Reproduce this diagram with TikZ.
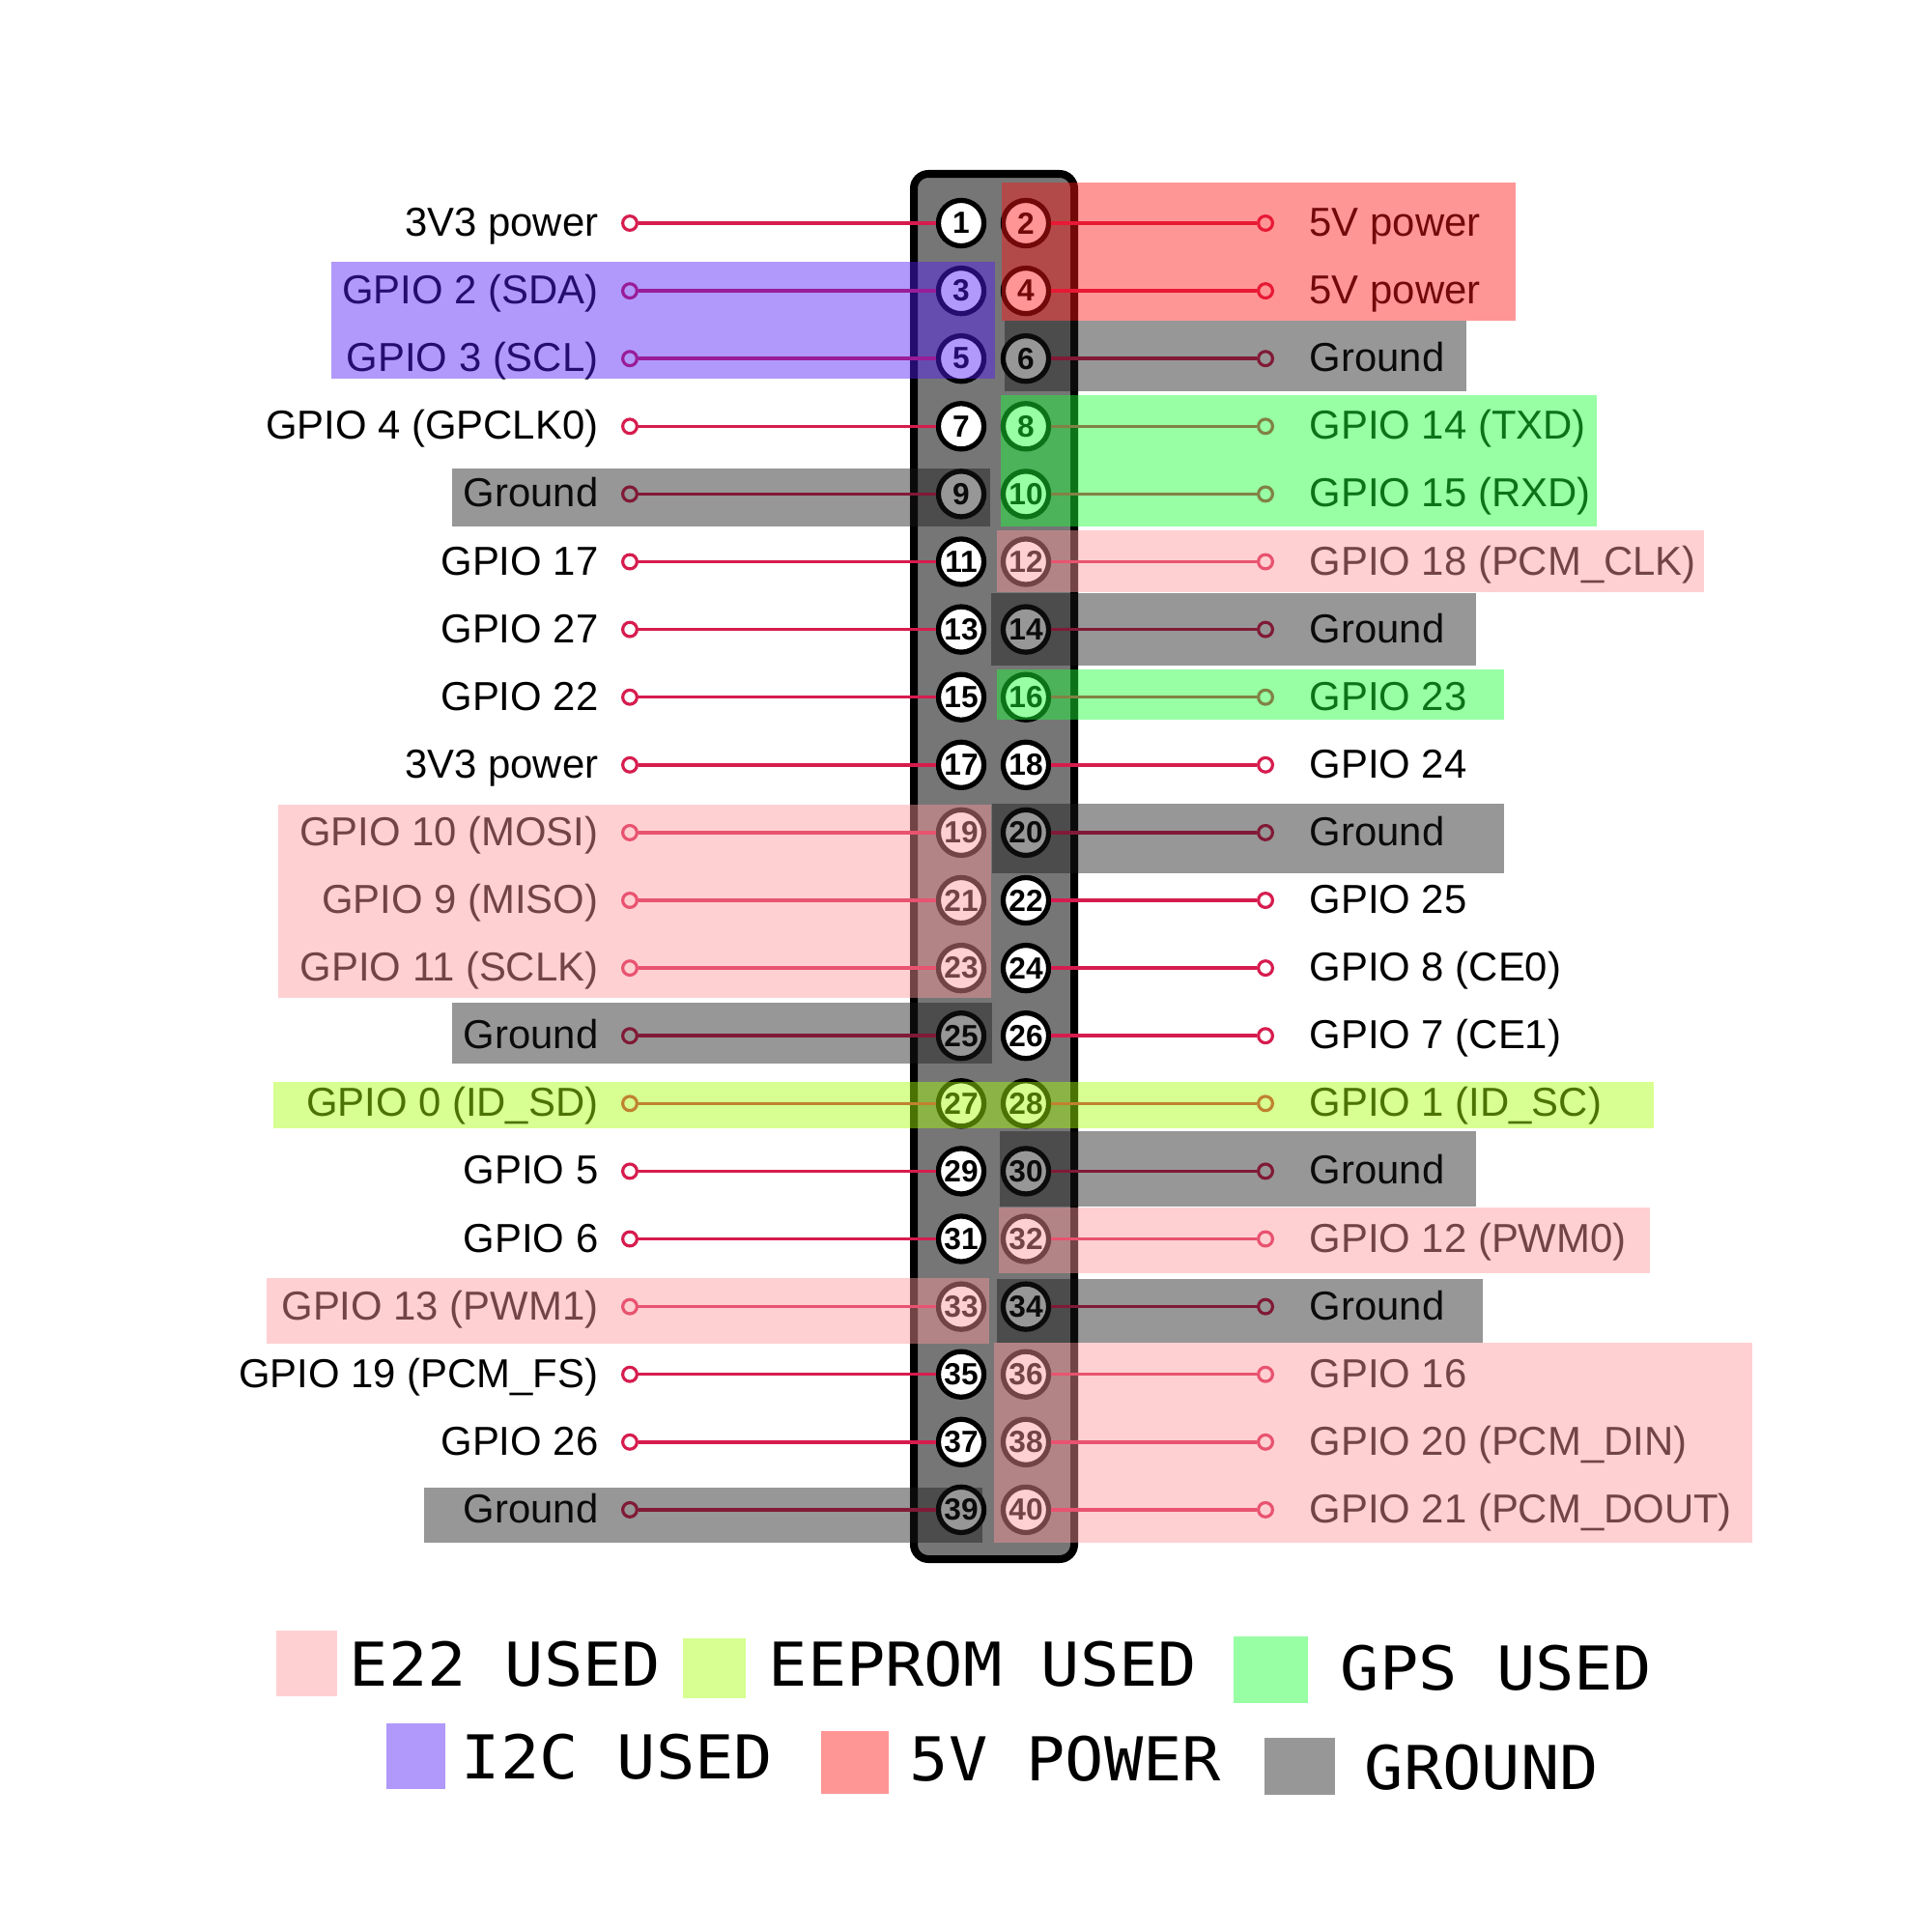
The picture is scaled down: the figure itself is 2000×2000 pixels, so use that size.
\documentclass[tikz,border=0pt]{standalone}
\usepackage{fontspec}
\setmainfont{Liberation Sans}
\newfontfamily\legendfont[FakeStretch=1.07]{DejaVu Sans Mono}

\definecolor{wirered}{RGB}{214,28,78}
\definecolor{hdrgray}{RGB}{118,118,118}
\definecolor{e22col}{RGB}{255,151,155}
\definecolor{eepromcol}{RGB}{167,255,11}
\definecolor{gpscol}{RGB}{27,255,56}
\definecolor{i2ccol}{RGB}{80,29,244}
\definecolor{fivevcol}{RGB}{255,22,22}
\definecolor{gndcol}{RGB}{25,25,25}

\tikzset{
	gpiopin/.style={circle, draw=black, fill=white, line width=1.5pt,
		minimum size=13.4pt, inner sep=0pt, font=\bfseries\fontsize{9}{9}\selectfont},
	term/.style={circle, draw=wirered, fill=white, line width=0.9pt,
		minimum size=4.2pt, inner sep=0pt},
	conn/.style={draw=wirered, line width=1pt},
	lbl/.style={inner sep=0pt, font=\fontsize{11.9}{14}\selectfont},
	hl/.style={fill=#1, fill opacity=0.45},
	legtext/.style={inner sep=0pt, anchor=base west, font=\legendfont\fontsize{17.8}{20}\selectfont}
}

\begin{document}
\begin{tikzpicture}[x=0.01cm, y=-0.01cm]
	\useasboundingbox (0,0) rectangle (2000,2000);

	% header
	\draw[line width=2.28pt, fill=hdrgray, rounded corners=4.3pt] (946,180) rectangle (1112,1614);

	% odd pins
	\foreach \n/\txt [evaluate=\n as \yy using 231+70.1*int((\n-1)/2)] in {
		1/3V3 power, 3/GPIO 2 (SDA), 5/GPIO 3 (SCL), 7/GPIO 4 (GPCLK0),
		9/Ground, 11/GPIO 17, 13/GPIO 27, 15/GPIO 22, 17/3V3 power,
		19/GPIO 10 (MOSI), 21/GPIO 9 (MISO), 23/GPIO 11 (SCLK), 25/Ground,
		27/GPIO 0 (ID\_SD), 29/GPIO 5, 31/GPIO 6, 33/GPIO 13 (PWM1),
		35/GPIO 19 (PCM\_FS), 37/GPIO 26, 39/Ground}{
		\node[gpiopin] (p\n) at (995,\yy) {\n};
		\node[term] (t\n) at (652,\yy) {};
		\node[lbl, anchor=base east] (l\n) at (620,\yy+13.5) {\txt};
		\draw[conn] (t\n) -- (p\n);
	}

	% even pins
	\foreach \n/\txt [evaluate=\n as \yy using 231+70.1*int((\n-1)/2)] in {
		2/5V power, 4/5V power, 6/Ground, 8/GPIO 14 (TXD), 10/GPIO 15 (RXD),
		12/GPIO 18 (PCM\_CLK), 14/Ground, 16/GPIO 23, 18/GPIO 24, 20/Ground,
		22/GPIO 25, 24/GPIO 8 (CE0), 26/GPIO 7 (CE1), 28/GPIO 1 (ID\_SC),
		30/Ground, 32/GPIO 12 (PWM0), 34/Ground, 36/GPIO 16,
		38/GPIO 20 (PCM\_DIN), 40/GPIO 21 (PCM\_DOUT)}{
		\node[gpiopin] (p\n) at (1062,\yy) {\n};
		\node[term] (t\n) at (1310,\yy) {};
		\node[lbl, anchor=base west] (l\n) at (1355,\yy+13.5) {\txt};
		\draw[conn] (p\n) -- (t\n);
	}

	% highlights, left
	\fill[hl=i2ccol] (343,271) rectangle (1030,392);
	\fill[hl=gndcol] (468,485) rectangle (1025,545);
	\fill[hl=e22col] (288,833) rectangle (1026,1033);
	\fill[hl=gndcol] (468,1038) rectangle (1027,1101);
	\fill[hl=eepromcol] (283,1120) rectangle (1712,1168);
	\fill[hl=e22col] (276,1323) rectangle (1024,1391);
	\fill[hl=gndcol] (439,1540) rectangle (1017,1597);

	% highlights, right
	\fill[hl=fivevcol] (1037,189) rectangle (1569,332);
	\fill[hl=gndcol] (1040,332) rectangle (1518,405);
	\fill[hl=gpscol] (1036,409) rectangle (1653,545);
	\fill[hl=e22col] (1032,549) rectangle (1764,613);
	\fill[hl=gndcol] (1026,614) rectangle (1528,689);
	\fill[hl=gpscol] (1032,693) rectangle (1557,745);
	\fill[hl=gndcol] (1027,832) rectangle (1557,904);
	\fill[hl=gndcol] (1035,1171) rectangle (1528,1249);
	\fill[hl=e22col] (1034,1250) rectangle (1708,1318);
	\fill[hl=gndcol] (1032,1324) rectangle (1535,1390);
	\fill[hl=e22col] (1029,1390) rectangle (1814,1597);

	% legend
	\fill[hl=e22col] (286,1688) rectangle (349,1756);
	\node[legtext] (le22) at (361,1745) {E22 USED};
	\fill[hl=eepromcol] (707,1696) rectangle (772,1758);
	\node[legtext] (leeprom) at (795,1745) {EEPROM USED};
	\fill[hl=gpscol] (1277,1694) rectangle (1354,1763);
	\node[legtext] (lgps) at (1387,1749) {GPS USED};
	\fill[hl=i2ccol] (400,1784) rectangle (461,1852);
	\node[legtext] (li2c) at (477,1841) {I2C USED};
	\fill[hl=fivevcol] (850,1792) rectangle (920,1857);
	\node[legtext] (lfivev) at (941,1843) {5V POWER};
	\fill[hl=gndcol] (1309,1799) rectangle (1382,1858);
	\node[legtext] (lgnd) at (1412,1852) {GROUND};
\end{tikzpicture}
\end{document}
